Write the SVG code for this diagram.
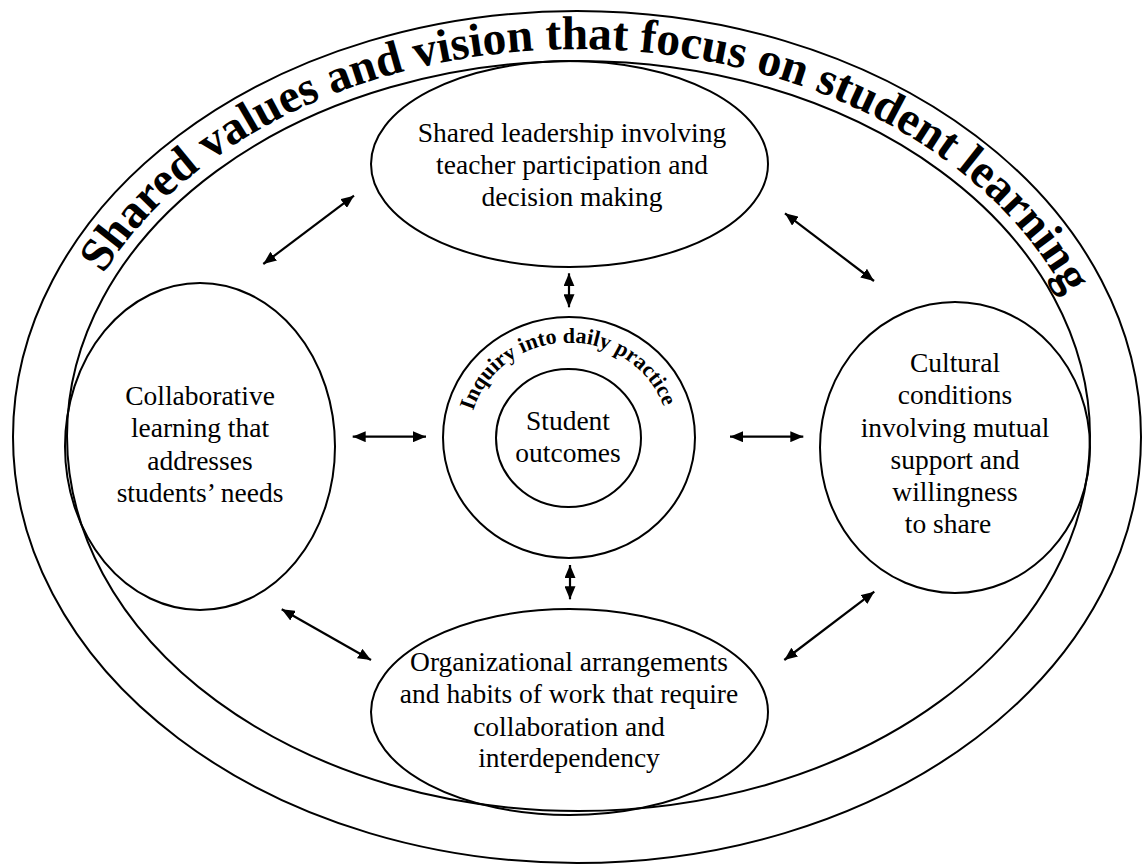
<svg xmlns="http://www.w3.org/2000/svg" xmlns:xlink="http://www.w3.org/1999/xlink" width="1143" height="865" viewBox="0 0 1143 865">
<style>
.shape{fill:none;stroke:#000;stroke-width:2}
.lbl{font-family:"Liberation Serif","Times New Roman",serif;font-size:27.5px;fill:#000;text-anchor:middle}
.title{font-family:"Liberation Serif","Times New Roman",serif;font-weight:bold;font-size:47.5px;fill:#000}
.inq{font-family:"Liberation Serif","Times New Roman",serif;font-weight:bold;font-size:22px;fill:#000}
.arr{fill:none;stroke:#000;stroke-width:2.2;marker-start:url(#ah);marker-end:url(#ah)}
</style>
<defs>
<marker id="ah" markerUnits="userSpaceOnUse" viewBox="0 0 13 11" refX="13" refY="5.5" markerWidth="13" markerHeight="11" orient="auto-start-reverse">
<path d="M0,0 L13,5.5 L0,11 z" fill="#000"/>
</marker>
<path id="titlePath" d="M 55.5,436 A 523,387 0 0 1 1101.5,436"/>
<path id="inqPath" d="M 469,437.5 A 100,95 0 0 1 669,437.5"/>
</defs>
<rect width="1143" height="865" fill="#fff"/>
<g id="outer">
<ellipse class="shape" cx="577" cy="437" rx="564" ry="426"/>
<ellipse class="shape" cx="578.5" cy="436" rx="511.5" ry="375"/>
<text class="title"><textPath xlink:href="#titlePath" startOffset="171">Shared</textPath></text>
<text class="title"><textPath xlink:href="#titlePath" startOffset="328">values</textPath></text>
<text class="title"><textPath xlink:href="#titlePath" startOffset="466.6">and</textPath></text>
<text class="title"><textPath xlink:href="#titlePath" startOffset="555">vision</textPath></text>
<text class="title"><textPath xlink:href="#titlePath" startOffset="685.7">that</textPath></text>
<text class="title"><textPath xlink:href="#titlePath" startOffset="779.4">focus</textPath></text>
<text class="title"><textPath xlink:href="#titlePath" startOffset="896.8">on</textPath></text>
<text class="title"><textPath xlink:href="#titlePath" startOffset="958.8">student</textPath></text>
<text class="title"><textPath xlink:href="#titlePath" startOffset="1121.1">learning</textPath></text>
</g>
<g id="node-top">
<ellipse class="shape" cx="569.5" cy="164" rx="198.5" ry="103"/>
<text class="lbl" x="572" y="142">Shared leadership involving</text>
<text class="lbl" x="572" y="174">teacher participation and</text>
<text class="lbl" x="572" y="206">decision making</text>
</g>
<g id="node-left">
<ellipse class="shape" cx="200" cy="446.5" rx="135" ry="163.5"/>
<text class="lbl" x="200" y="405">Collaborative</text>
<text class="lbl" x="200" y="437">learning that</text>
<text class="lbl" x="200" y="470">addresses</text>
<text class="lbl" x="200" y="502">students’ needs</text>
</g>
<g id="node-right">
<ellipse class="shape" cx="955" cy="447.5" rx="135" ry="145.5"/>
<text class="lbl" x="955" y="372">Cultural</text>
<text class="lbl" x="955" y="404">conditions</text>
<text class="lbl" x="955" y="437">involving mutual</text>
<text class="lbl" x="955" y="469">support and</text>
<text class="lbl" x="955" y="501">willingness</text>
<text class="lbl" x="948" y="533">to share</text>
</g>
<g id="node-bottom">
<ellipse class="shape" cx="569.5" cy="712" rx="198.5" ry="103"/>
<text class="lbl" x="569" y="671">Organizational arrangements</text>
<text class="lbl" x="569" y="703">and habits of work that require</text>
<text class="lbl" x="569" y="736">collaboration and</text>
<text class="lbl" x="569" y="767">interdependency</text>
</g>
<g id="node-center">
<ellipse class="shape" cx="569" cy="437.5" rx="126" ry="120.5"/>
<text class="inq"><textPath xlink:href="#inqPath" startOffset="27">Inquiry</textPath></text>
<text class="inq"><textPath xlink:href="#inqPath" startOffset="104.6">into</textPath></text>
<text class="inq"><textPath xlink:href="#inqPath" startOffset="146.8">daily</textPath></text>
<text class="inq"><textPath xlink:href="#inqPath" startOffset="198.8">practice</textPath></text>
</g>
<g id="node-core">
<ellipse class="shape" cx="568.5" cy="438" rx="72.5" ry="69"/>
<text class="lbl" x="568" y="430">Student</text>
<text class="lbl" x="568" y="462">outcomes</text>
</g>
<g id="connectors">
<line class="arr" x1="263.3" y1="264" x2="354" y2="195.7"/>
<line class="arr" x1="785" y1="213.3" x2="874" y2="281"/>
<line class="arr" x1="569" y1="273.3" x2="569" y2="307.3"/>
<line class="arr" x1="570" y1="565" x2="570" y2="599.3"/>
<line class="arr" x1="352.7" y1="436.7" x2="426" y2="436.7"/>
<line class="arr" x1="730" y1="436.7" x2="803.3" y2="436.7"/>
<line class="arr" x1="281.7" y1="609.3" x2="371" y2="660"/>
<line class="arr" x1="784.3" y1="660" x2="874.3" y2="591.7"/>
</g>
</svg>
